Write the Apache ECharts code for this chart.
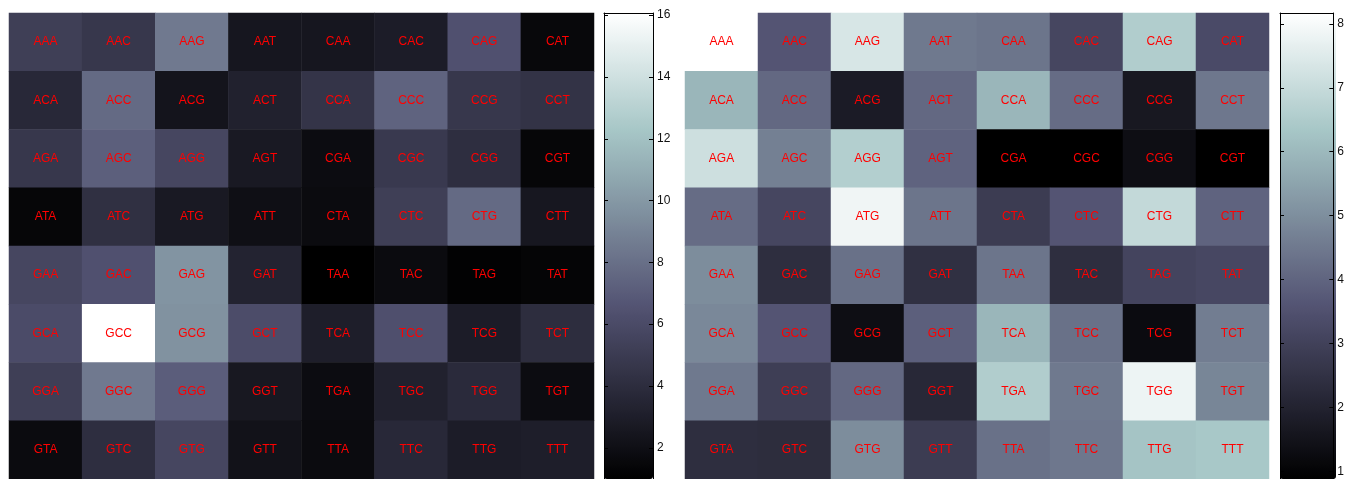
<!DOCTYPE html>
<html><head><meta charset="utf-8">
<script src="https://cdn.jsdelivr.net/npm/echarts@6/dist/echarts.min.js"></script>
<style>html,body{margin:0;padding:0;background:#fff}#c{width:1347px;height:479px}</style>
</head><body><div id="c"></div>
<script>
const codonRows = [
  ['AAA','AAC','AAG','AAT','CAA','CAC','CAG','CAT'],
  ['ACA','ACC','ACG','ACT','CCA','CCC','CCG','CCT'],
  ['AGA','AGC','AGG','AGT','CGA','CGC','CGG','CGT'],
  ['ATA','ATC','ATG','ATT','CTA','CTC','CTG','CTT'],
  ['GAA','GAC','GAG','GAT','TAA','TAC','TAG','TAT'],
  ['GCA','GCC','GCG','GCT','TCA','TCC','TCG','TCT'],
  ['GGA','GGC','GGG','GGT','TGA','TGC','TGG','TGT'],
  ['GTA','GTC','GTG','GTT','TTA','TTC','TTG','TTT']
];
const leftValues = [
  [5.2, 4.7, 8.5, 2.5, 2.5, 2.9, 6.4, 1.5],
  [3.7, 7.75, 2.35, 3.2, 4.5, 7.4, 4.7, 4.4],
  [4.7, 7.2, 5.7, 2.7, 1.8, 4.85, 4.1, 1.4],
  [1.4, 4.2, 2.7, 2.0, 1.7, 5.2, 7.75, 2.55],
  [5.7, 6.4, 9.8, 3.35, 0.99, 1.7, 1.15, 1.3],
  [6.05, 16.07, 9.7, 6.1, 3.0, 6.3, 2.9, 4.0],
  [5.2, 8.5, 7.1, 2.6, 1.8, 3.2, 3.85, 1.8],
  [1.7, 4.1, 5.7, 2.2, 1.7, 3.7, 2.9, 3.0]
];
const rightValues = [
  [8.17, 3.6, 7.35, 4.5, 4.4, 3.15, 6.55, 3.3],
  [5.94, 4.1, 1.77, 4.1, 5.94, 4.2, 1.65, 4.46],
  [7.13, 4.66, 6.6, 3.97, 0.88, 0.88, 1.35, 0.88],
  [4.2, 3.15, 7.85, 4.4, 2.83, 3.6, 6.92, 3.97],
  [4.96, 2.37, 4.3, 2.43, 4.4, 2.37, 3.1, 3.2],
  [4.86, 3.6, 1.35, 3.87, 5.94, 4.3, 1.25, 4.6],
  [4.5, 2.9, 4.1, 2.17, 6.55, 4.5, 7.8, 4.8],
  [2.37, 2.33, 4.96, 2.83, 4.3, 4.46, 6.27, 6.37]
];
const leftRange = [0.99, 16.07];
const rightRange = [0.88, 8.17];
const leftTicks = [2, 4, 6, 8, 10, 12, 14, 16];
const rightTicks = [1, 2, 3, 4, 5, 6, 7, 8];
const colCats = ['1','2','3','4','5','6','7','8'];
const rowCats = ['1','2','3','4','5','6','7','8'];

const bone = ['#000000','#1c1c27','#38384d','#545474','#707a8f','#8ba1ab','#a7c7c7','#d3e3e3','#ffffff'];
const FONT = '"Liberation Sans", Arial, Helvetica, sans-serif';

function toData(vals) {
  const out = [];
  vals.forEach((row, r) => row.forEach((v, c) => out.push([c, r, v])));
  return out;
}
function heatSeries(idx, vals) {
  return {
    type: 'heatmap', xAxisIndex: idx, yAxisIndex: idx, data: toData(vals),
    progressive: 0, emphasis: { disabled: true },
    label: { show: true, color: '#ff0000', fontSize: 12, fontFamily: FONT,
      formatter: p => codonRows[p.data[1]][p.data[0]] }
  };
}
const lineStyle = { color: '#000', width: 1 };
function boxX(grid, pos) {
  return { type: 'value', gridIndex: grid, min: 0, max: 1, position: pos, z: 10,
    axisLine: { show: true, onZero: false, lineStyle },
    axisTick: { show: false }, axisLabel: { show: false }, splitLine: { show: false } };
}
function barY(grid, pos, range, ticks, labels) {
  return { type: 'value', gridIndex: grid, min: range[0], max: range[1], position: pos, z: 10,
    axisLine: { show: true, onZero: false, lineStyle },
    axisTick: { show: true, inside: true, length: 4, lineStyle, customValues: ticks },
    axisLabel: { show: labels, customValues: ticks, margin: 4, color: '#111', fontSize: 12, fontFamily: FONT },
    splitLine: { show: false } };
}

const chart = echarts.init(document.getElementById('c'), null, { renderer: 'canvas' });
chart.setOption({
  animation: false,
  backgroundColor: '#fff',
  grid: [
    { left: 9, top: 13, width: 585, height: 466 },
    { left: 685, top: 13, width: 584, height: 466 },
    { left: 604, top: 13, width: 49, height: 466 },
    { left: 1280, top: 13, width: 56, height: 466 }
  ],
  xAxis: [
    { type: 'category', gridIndex: 0, data: colCats, show: false },
    { type: 'category', gridIndex: 1, data: colCats, show: false },
    boxX(2, 'bottom'), boxX(2, 'top'),
    boxX(3, 'bottom'), boxX(3, 'top')
  ],
  yAxis: [
    { type: 'category', gridIndex: 0, data: rowCats, inverse: true, show: false },
    { type: 'category', gridIndex: 1, data: rowCats, inverse: true, show: false },
    barY(2, 'left', leftRange, leftTicks, false),
    barY(2, 'right', leftRange, leftTicks, true),
    barY(3, 'left', rightRange, rightTicks, false),
    barY(3, 'right', rightRange, rightTicks, true)
  ],
  visualMap: [
    { type: 'continuous', seriesIndex: 0, min: leftRange[0], max: leftRange[1],
      left: 604, top: 13, itemWidth: 49, itemHeight: 466, padding: 0,
      calculable: false, hoverLink: false, inRange: { color: bone } },
    { type: 'continuous', seriesIndex: 1, min: rightRange[0], max: rightRange[1],
      left: 1280, top: 13, itemWidth: 56, itemHeight: 466, padding: 0,
      calculable: false, hoverLink: false, inRange: { color: bone } }
  ],
  series: [heatSeries(0, leftValues), heatSeries(1, rightValues)]
});
</script>
</body></html>
